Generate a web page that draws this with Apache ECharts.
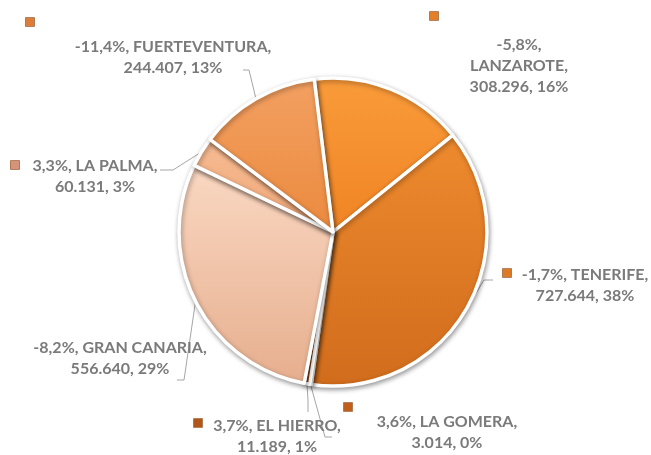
<!DOCTYPE html>
<html>
<head>
<meta charset="utf-8">
<script src="https://cdn.jsdelivr.net/npm/echarts@6/dist/echarts.min.js"></script>
<style>
  html, body { margin: 0; padding: 0; background: #fff; }
  #chart { width: 651px; height: 455px; }
</style>
</head>
<body>
<div id="chart"></div>
<script>
// data, clockwise from the top
const islands = ['LANZAROTE', 'TENERIFE', 'LA GOMERA', 'EL HIERRO', 'GRAN CANARIA', 'LA PALMA', 'FUERTEVENTURA'];
const visitors = [308296, 727644, 3014, 11189, 556640, 60131, 244407];
const changes = ['-5,8%', '-1,7%', '3,6%', '3,7%', '-8,2%', '3,3%', '-11,4%'];

// styles
const topColors = ['#F99B3A', '#EE8A2E', '#C4641C', '#B25A1C', '#FAD8C2', '#F7BC94', '#F3A062'];
const bottomColors = ['#F08424', '#D06C1C', '#B05514', '#9E4C14', '#E6AE8E', '#EFA676', '#EB8A3E'];
const markerColors = ['#E27F27', '#DD7A26', '#BF5F1B', '#B0561A', null, '#D4937A', '#DC7D3A'];

// label placement (text centre, marker, leader line elbow + end)
const labelCenter = [[519, 66], [585, 285], [447, 432], [277, 436], [120, 358], [95, 176], [173, 57]];
const markerPos = [[434, 16], [507, 273], [348, 407], [198, 423], null, [15, 165], [30, 22]];
const leaderPts = [null, [[484, 280], [493, 280]], [[325, 437], [332, 437]], [[308, 400], [308, 412]],
  [[184, 380], [177, 380]], [[173, 170], [160, 170]], [[249, 70], [243, 70]]];
const lineBreak = [',\n', ', ', ', ', ', ', ', ', ', ', ', '];

const total = visitors.reduce((a, b) => a + b, 0);
const fmt = v => String(v).replace(/\B(?=(\d{3})+(?!\d))/g, '.');

const chart = echarts.init(document.getElementById('chart'));

const sliceData = islands.map((name, i) => ({
  name,
  value: visitors[i],
  itemStyle: {
    color: new echarts.graphic.LinearGradient(0, 0, 0, 1, [
      { offset: 0, color: topColors[i] },
      { offset: 1, color: bottomColors[i] }
    ])
  }
}));

const markerData = islands.map((name, i) => ({
  name,
  value: visitors[i],
  label: {
    show: markerColors[i] !== null,
    rich: {
      m: {
        width: 8,
        height: 8,
        backgroundColor: markerColors[i] || '#fff',
        borderColor: '#9c5a2a',
        borderWidth: 0.8
      }
    }
  }
}));

const pieBase = {
  type: 'pie',
  center: [333, 232],
  radius: 154,
  startAngle: 97,
  clockwise: true,
  avoidLabelOverlap: false,
  animation: false
};

chart.setOption({
  backgroundColor: '#fff',
  series: [
    Object.assign({}, pieBase, {
      data: sliceData,
      itemStyle: {
        borderColor: '#fff',
        borderWidth: 3.5,
        shadowBlur: 5,
        shadowColor: 'rgba(0,0,0,0.35)',
        shadowOffsetX: 1,
        shadowOffsetY: 2
      },
      label: {
        show: true,
        position: 'outside',
        fontFamily: 'Lato',
        fontWeight: 'bold',
        fontSize: 16,
        lineHeight: 21,
        color: '#7a7a7a',
        align: 'center',
        formatter: function (p) {
          const i = p.dataIndex;
          const pct = Math.round(visitors[i] / total * 100);
          return changes[i] + lineBreak[i] + islands[i] + ',\n' + fmt(visitors[i]) + ', ' + pct + '%';
        }
      },
      labelLine: {
        show: true,
        lineStyle: { color: '#a6a6a6', width: 1 }
      },
      labelLayout: function (params) {
        const i = params.dataIndex;
        const res = {
          x: labelCenter[i][0],
          y: labelCenter[i][1],
          align: 'center',
          verticalAlign: 'middle'
        };
        const pts = params.labelLinePoints;
        if (leaderPts[i] && pts) {
          res.labelLinePoints = [pts[0], leaderPts[i][0], leaderPts[i][1]];
        } else if (pts) {
          res.labelLinePoints = [pts[0], pts[0], pts[0]];
        }
        return res;
      }
    }),
    Object.assign({}, pieBase, {
      silent: true,
      data: markerData,
      itemStyle: { color: 'rgba(0,0,0,0)' },
      label: {
        position: 'outside',
        formatter: '{m|}'
      },
      labelLine: { show: false },
      labelLayout: function (params) {
        const p = markerPos[params.dataIndex];
        if (!p) return {};
        return { x: p[0], y: p[1], align: 'center', verticalAlign: 'middle' };
      }
    })
  ]
});
</script>
</body>
</html>
